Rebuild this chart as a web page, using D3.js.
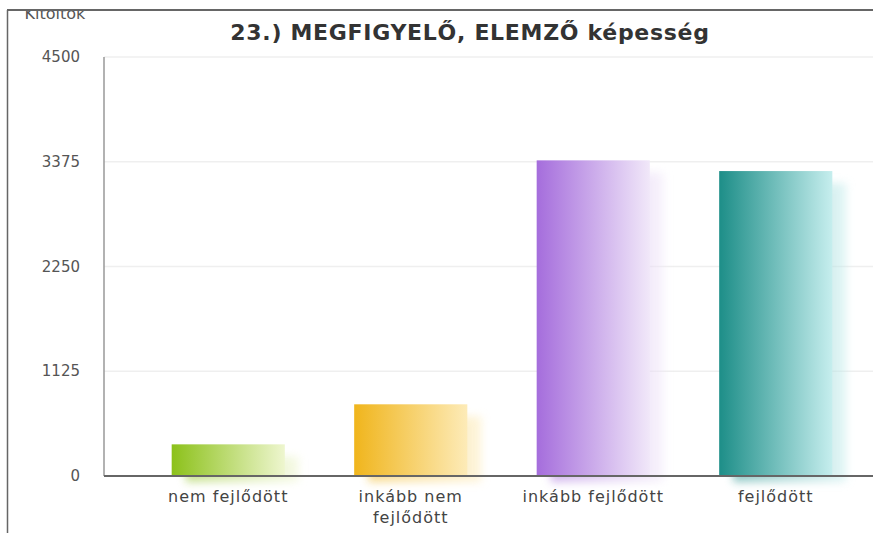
<!DOCTYPE html>
<html>
<head>
<meta charset="utf-8">
<script src="https://cdn.jsdelivr.net/npm/d3@7"></script>
<style>
  body { margin: 0; background: #fff; }
  svg { display: block; font-family: "DejaVu Sans", Verdana, sans-serif; }
</style>
</head>
<body>
<div id="chart"></div>
<script>
const categories = ["nem fejlődött", "inkább nem fejlődött", "inkább fejlődött", "fejlődött"];
const labelLines = [["nem fejlődött"], ["inkább nem", "fejlődött"], ["inkább fejlődött"], ["fejlődött"]];
const values = [340, 770, 3390, 3275];
const tickValues = [0, 1125, 2250, 3375, 4500];
const barColors = [
  ["#8cc11a", "#eef6cf"],
  ["#f0b51c", "#fdebb8"],
  ["#a56ddc", "#f1e8f9"],
  ["#1d8e88", "#c6eeee"]
];
const title = "23.) MEGFIGYELŐ, ELEMZŐ képesség";
const yTitle = "Kitöltök";

const width = 873, height = 533;
const plot = { left: 104, right: 873, top: 57, bottom: 476 };

const svg = d3.select("#chart").append("svg")
  .attr("width", width)
  .attr("height", height);

const defs = svg.append("defs");

barColors.forEach((c, i) => {
  const g = defs.append("linearGradient")
    .attr("id", "grad" + i)
    .attr("x1", "0%").attr("x2", "100%").attr("y1", "0%").attr("y2", "0%");
  g.append("stop").attr("offset", "0%").attr("stop-color", c[0]);
  g.append("stop").attr("offset", "100%").attr("stop-color", c[1]);
});

defs.append("filter")
  .attr("id", "blur")
  .attr("x", "-30%").attr("y", "-30%").attr("width", "160%").attr("height", "160%")
  .append("feGaussianBlur").attr("stdDeviation", 4);

defs.append("clipPath").attr("id", "frameClip")
  .append("rect").attr("x", 0).attr("y", 11).attr("width", width).attr("height", height);

const x = d3.scaleBand()
  .domain(categories)
  .range([137, 867])
  .paddingInner(0.38)
  .paddingOuter(0.19);

const y = d3.scaleLinear()
  .domain([0, 4500])
  .range([plot.bottom, plot.top]);

// gridlines
svg.append("g")
  .selectAll("line")
  .data(tickValues.filter(d => d > 0))
  .join("line")
  .attr("x1", plot.left).attr("x2", plot.right)
  .attr("y1", d => y(d)).attr("y2", d => y(d))
  .attr("stroke", "#efefef")
  .attr("stroke-width", 1.5);

// y tick labels
svg.append("g")
  .selectAll("text")
  .data(tickValues)
  .join("text")
  .attr("x", 80)
  .attr("y", d => y(d) + 5)
  .attr("text-anchor", "end")
  .attr("font-size", 15)
  .attr("fill", "#555")
  .text(d => d);

// bars with a soft blurred shadow to the right
const bars = svg.append("g")
  .selectAll("g")
  .data(values.map((v, i) => ({ cat: categories[i], value: v, i: i })))
  .join("g");

bars.append("rect")
  .attr("x", d => x(d.cat) + 14)
  .attr("y", d => y(d.value) + 12)
  .attr("width", x.bandwidth())
  .attr("height", d => y(0) - y(d.value) - 6)
  .attr("fill", d => `url(#grad${d.i})`)
  .attr("opacity", 0.5)
  .attr("filter", "url(#blur)");

bars.append("rect")
  .attr("x", d => x(d.cat))
  .attr("y", d => y(d.value))
  .attr("width", x.bandwidth())
  .attr("height", d => y(0) - y(d.value))
  .attr("fill", d => `url(#grad${d.i})`);

// axes lines
svg.append("line")
  .attr("x1", plot.left).attr("x2", plot.left)
  .attr("y1", plot.top).attr("y2", plot.bottom)
  .attr("stroke", "#999").attr("stroke-width", 1.5);
svg.append("line")
  .attr("x1", plot.left).attr("x2", plot.right)
  .attr("y1", plot.bottom).attr("y2", plot.bottom)
  .attr("stroke", "#666").attr("stroke-width", 2);

// x labels
const xl = svg.append("g")
  .selectAll("text")
  .data(categories)
  .join("text")
  .attr("x", d => x(d) + x.bandwidth() / 2)
  .attr("y", 502)
  .attr("text-anchor", "middle")
  .attr("font-size", 16)
  .attr("letter-spacing", 1)
  .attr("fill", "#444");
xl.each(function(d, i) {
  d3.select(this).selectAll("tspan")
    .data(labelLines[i])
    .join("tspan")
    .attr("x", x(d) + x.bandwidth() / 2)
    .attr("dy", (t, j) => j === 0 ? 0 : 21)
    .text(t => t);
});

// title
svg.append("text")
  .attr("x", 470)
  .attr("y", 40)
  .attr("text-anchor", "middle")
  .attr("font-size", 22)
  .attr("font-weight", "bold")
  .attr("letter-spacing", 0.7)
  .attr("fill", "#333")
  .text(title);

// y axis title, cut by the frame
svg.append("text")
  .attr("x", 55)
  .attr("y", 19)
  .attr("text-anchor", "middle")
  .attr("font-size", 16)
  .attr("fill", "#555")
  .attr("clip-path", "url(#frameClip)")
  .text(yTitle);

// outer frame
svg.append("line")
  .attr("x1", 7).attr("x2", width)
  .attr("y1", 10).attr("y2", 10)
  .attr("stroke", "#666").attr("stroke-width", 2);
svg.append("line")
  .attr("x1", 7.5).attr("x2", 7.5)
  .attr("y1", 10).attr("y2", height)
  .attr("stroke", "#666").attr("stroke-width", 1.5);
</script>
</body>
</html>
